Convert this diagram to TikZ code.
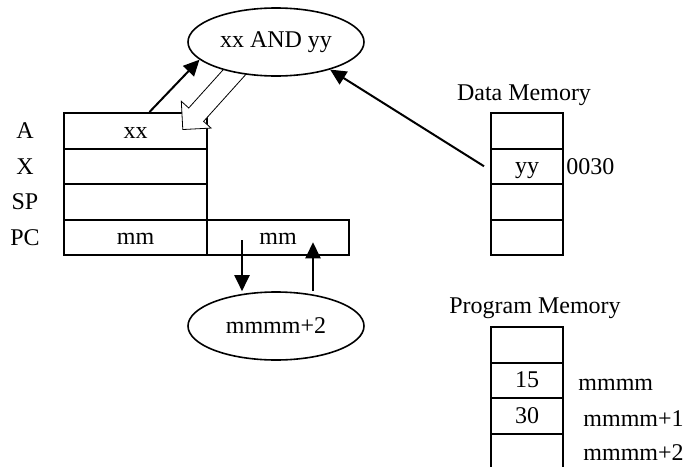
\documentclass[tikz,border=0pt]{standalone}
\usepackage{fontspec}
\setmainfont{Liberation Serif}
\usetikzlibrary{shapes.geometric,arrows.meta}

\begin{document}
\begin{tikzpicture}[x=0.5pt,y=-0.5pt,
    font=\fontsize{12}{14}\selectfont,
    cell/.style={draw,line width=1pt,minimum width=71.5pt,minimum height=17.75pt,inner sep=0pt,
        text height=9pt,text depth=1.5pt},
    mcell/.style={cell,minimum width=36pt},
    oval/.style={draw,ellipse,line width=0.8pt,fill=white,minimum width=88pt,minimum height=34pt,inner sep=0pt},
    lbl/.style={inner sep=0pt},
    arr/.style={-{Triangle[length=8pt,width=7.5pt]},line width=1pt}]
\useasboundingbox (0,0) rectangle (685,466);

% CPU registers
\node[cell] (regA) at (135.5,130.75) {xx};
\node[cell] (regX) at (135.5,166.25) {};
\node[cell] (regSP) at (135.5,201.75) {};
\node[cell] (regPC) at (135.5,237.25) {mm};
\node[cell,minimum width=71pt] (pcR) at (278,237.25) {mm};
\foreach \r/\t in {regA/A,regX/X,regSP/SP,regPC/PC}
    \node[lbl] (l\r) at (25,0 |- \r) {\t};

% data memory
\node[lbl] (dmtitle) at (524,95) {Data Memory};
\foreach \i/\y/\t in {1/130.75/{},2/166.25/yy,3/201.75/{},4/237.25/{}}
    \node[mcell] (dm\i) at (527,\y) {\t};
\node[lbl,anchor=base west] (addr) at ([xshift=1pt,yshift=-4pt]dm2.east) {0030};

% program memory
\node[lbl] (pmtitle) at (535,308) {Program Memory};
\foreach \i/\y/\t in {1/344.75/{},2/380.25/15,3/415.75/30,4/451.25/{}}
    \node[mcell] (pm\i) at (527,\y) {\t};
\node[lbl,anchor=base west] (pa1) at ([xshift=7pt,yshift=-5pt]pm2.east) {mmmm};
\node[lbl,anchor=base west] (pa2) at ([xshift=9.5pt,yshift=-5.5pt]pm3.east) {mmmm+1};
\node[lbl,anchor=base west] (pa3) at ([xshift=9.5pt,yshift=-4.5pt]pm4.east) {mmmm+2};

% result going back into A
\begin{scope}[shift={(240,66)},rotate=228]
\draw[line width=0.4pt,fill=white] (0,-10) -- (65.5,-10) -- (65.5,-20) -- (85.5,0)
    -- (65.5,20) -- (65.5,10) -- (0,10);
\end{scope}

% operations
\node[oval] (andop) at (276,42) {xx AND yy};
\node[oval] (inc) at (276,326) {mmmm+2};

\draw[arr] ([xshift=7pt]regA.north) -- (andop.193);
\draw[arr] ([xshift=-3pt]dm2.west) -- (andop.333);
\coordinate (dn) at ([xshift=-18pt,yshift=-1.5pt]pcR.center);
\draw[arr] (dn) -- (dn |- inc.north);
\coordinate (uptip) at ([xshift=17.5pt,yshift=-2.5pt]pcR.center);
\draw[arr] (uptip |- inc.north) -- (uptip);
\end{tikzpicture}
\end{document}
